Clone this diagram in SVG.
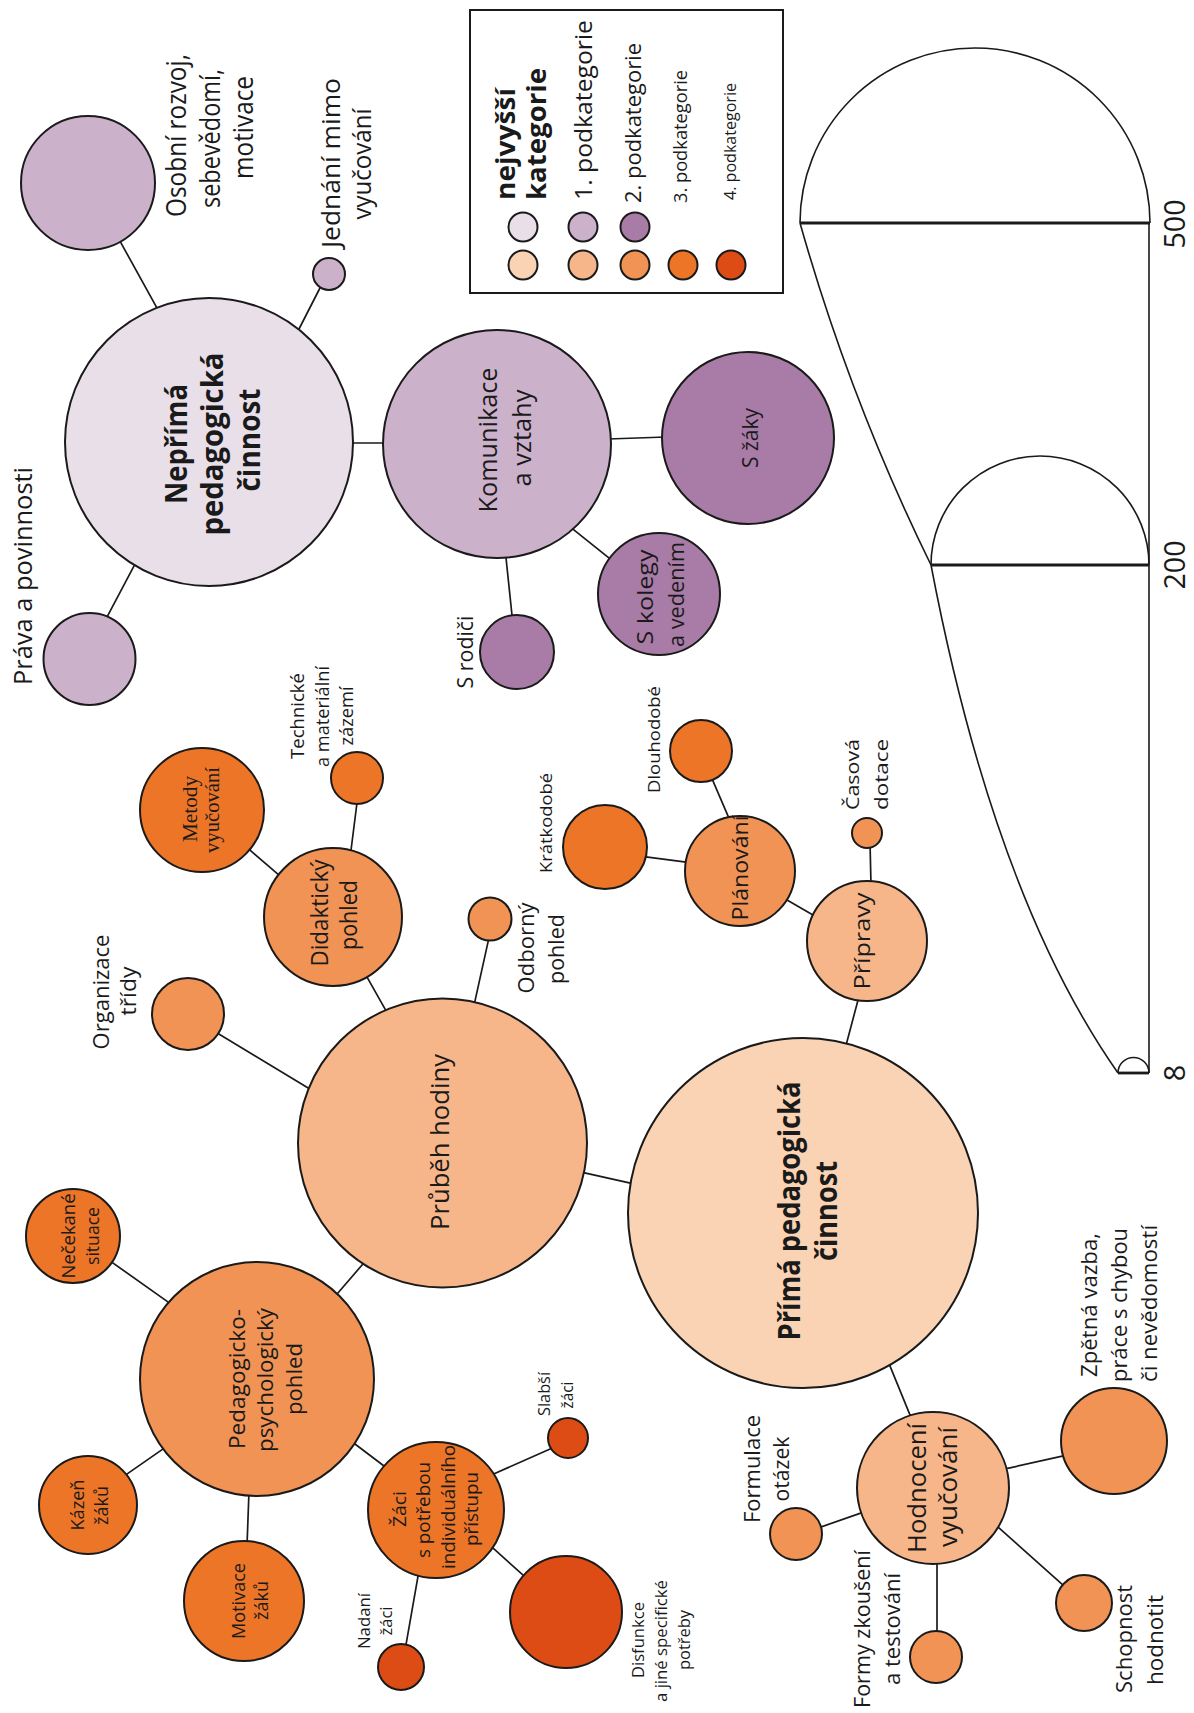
<svg xmlns="http://www.w3.org/2000/svg" width="1194" height="1713" viewBox="0 0 1194 1713">
<style>
.bg{fill:#ffffff}
circle{stroke:#1a1a1a;stroke-width:2}
.p0{fill:#e9dfe9}.p1{fill:#ccb1cb}.p2{fill:#a97ca7}
.o0{fill:#f9d3b4}.o1{fill:#f6b68a}.o2{fill:#f09355}.o3{fill:#ec7527}.o4{fill:#dd4c15}
.cn line{stroke:#1a1a1a;stroke-width:1.7;stroke-linecap:round}
text{font-family:"Open Sans","Noto Sans","DejaVu Sans",sans-serif;fill:#1a1a1a;text-anchor:middle}
.b{font-weight:bold}
.s{text-anchor:start}
.serif{font-family:"Liberation Serif","Times New Roman",serif}
.sc{fill:none;stroke:#1a1a1a;stroke-width:1.6}
.sd{stroke:#1a1a1a;stroke-width:2.8}
</style>
<rect class="bg" x="0" y="0" width="1194" height="1713"/>

<g id="scale">
<path class="sc" d="M800,223 A175,175 0 0 1 1150,223"/>
<path class="sc" d="M931,565 A109,109 0 0 1 1149,565"/>
<path class="sc" d="M1118,1073 A15.5,15.5 0 0 1 1149,1073"/>
<path class="sc" d="M800,223 Q850,400 931,565 Q994,896 1118,1073"/>
<line class="sd" x1="800" y1="223" x2="1150" y2="223"/>
<line class="sd" x1="931" y1="565" x2="1149" y2="565"/>
<line class="sd" x1="1118" y1="1073" x2="1149" y2="1073"/>
<line class="sc" x1="1149" y1="223" x2="1149" y2="1073"/>
<text font-size="29" transform="translate(1185,224) rotate(-90)" textLength="49" lengthAdjust="spacingAndGlyphs">500</text>
<text font-size="29" transform="translate(1185,565) rotate(-90)" textLength="49" lengthAdjust="spacingAndGlyphs">200</text>
<text font-size="29" transform="translate(1185,1073) rotate(-90)">8</text>
</g>

<g id="legend">
<rect x="470" y="10" width="313" height="283" fill="none" stroke="#1a1a1a" stroke-width="2"/>
<text class="b s" font-size="27" transform="translate(515,200) rotate(-90)" textLength="112" lengthAdjust="spacingAndGlyphs">nejvyšší</text>
<text class="b s" font-size="27" transform="translate(546,200) rotate(-90)" textLength="132" lengthAdjust="spacingAndGlyphs">kategorie</text>
<text class="s" font-size="24" transform="translate(592,200) rotate(-90)" textLength="180" lengthAdjust="spacingAndGlyphs">1. podkategorie</text>
<text class="s" font-size="21" transform="translate(641,203) rotate(-90)" textLength="160" lengthAdjust="spacingAndGlyphs">2. podkategorie</text>
<text class="s" font-size="18" transform="translate(687,203) rotate(-90)" textLength="133" lengthAdjust="spacingAndGlyphs">3. podkategorie</text>
<text class="s" font-size="16" transform="translate(736,200) rotate(-90)" textLength="117" lengthAdjust="spacingAndGlyphs">4. podkategorie</text>
<circle class="p0" cx="523" cy="227" r="14.5"/>
<circle class="p1" cx="583" cy="227" r="14.5"/>
<circle class="p2" cx="635" cy="227" r="14.5"/>
<circle class="o0" cx="523" cy="265" r="14.5"/>
<circle class="o1" cx="583" cy="265" r="14.5"/>
<circle class="o2" cx="635" cy="265" r="14.5"/>
<circle class="o3" cx="683" cy="265" r="14.5"/>
<circle class="o4" cx="731" cy="265" r="14.5"/>
</g>

<g id="connectors" class="cn">
<line x1="159.4" y1="312.4" x2="118.6" y2="238.6"/>
<line x1="296.7" y1="333.5" x2="323.3" y2="281.5"/>
<line x1="350" y1="443" x2="386" y2="443"/>
<line x1="136.3" y1="561.6" x2="104.7" y2="621.4"/>
<line x1="608" y1="439" x2="666" y2="437"/>
<line x1="570.1" y1="526.9" x2="612.9" y2="561.1"/>
<line x1="505.5" y1="553" x2="512.5" y2="620"/>
<line x1="282.8" y1="878.3" x2="247.2" y2="847.7"/>
<line x1="350.4" y1="855" x2="357.6" y2="798"/>
<line x1="364.5" y1="972.6" x2="387.5" y2="1013.4"/>
<line x1="214.7" y1="1031.4" x2="312.3" y2="1090.6"/>
<line x1="489.1" y1="937.1" x2="473.9" y2="1005.9"/>
<line x1="580.1" y1="1171.9" x2="634.9" y2="1184.1"/>
<line x1="334.7" y1="1296.8" x2="365.3" y2="1261.2"/>
<line x1="172.1" y1="1304.9" x2="108.9" y2="1260.1"/>
<line x1="167.1" y1="1446.1" x2="122.9" y2="1476.9"/>
<line x1="249" y1="1491" x2="247" y2="1546"/>
<line x1="351" y1="1441" x2="388" y2="1469"/>
<line x1="491.4" y1="1475" x2="554.6" y2="1447"/>
<line x1="418.9" y1="1571.1" x2="405.1" y2="1649.9"/>
<line x1="490.3" y1="1545.7" x2="526.7" y2="1578.3"/>
<line x1="730" y1="820.6" x2="711" y2="776.4"/>
<line x1="690" y1="862.7" x2="642" y2="856.3"/>
<line x1="782.7" y1="897.5" x2="817.3" y2="917.5"/>
<line x1="871" y1="885" x2="870" y2="842"/>
<line x1="859.3" y1="995.2" x2="846.7" y2="1042.8"/>
<line x1="888.1" y1="1361.4" x2="911.9" y2="1419.6"/>
<line x1="865.7" y1="1511.4" x2="816.3" y2="1528.6"/>
<line x1="937" y1="1558" x2="937" y2="1635"/>
<line x1="995.3" y1="1524.7" x2="1066.7" y2="1588.3"/>
<line x1="1004.1" y1="1469.1" x2="1067.9" y2="1454.9"/>
</g>

<g id="neprima">
<circle class="p0" cx="209" cy="442" r="144"/>
<text class="b" font-size="30" transform="translate(187,444) rotate(-90)" textLength="120" lengthAdjust="spacingAndGlyphs">Nepřímá</text>
<text class="b" font-size="30" transform="translate(223,444) rotate(-90)" textLength="183" lengthAdjust="spacingAndGlyphs">pedagogická</text>
<text class="b" font-size="30" transform="translate(260,440) rotate(-90)" textLength="103" lengthAdjust="spacingAndGlyphs">činnost</text>
</g>
<g id="osobni">
<circle class="p1" cx="88" cy="183" r="67"/>
<text font-size="27" transform="translate(186,135.5) rotate(-90)" textLength="163" lengthAdjust="spacingAndGlyphs">Osobní rozvoj,</text>
<text font-size="27" transform="translate(220,138.5) rotate(-90)" textLength="139" lengthAdjust="spacingAndGlyphs">sebevědomí,</text>
<text font-size="27" transform="translate(253,127.5) rotate(-90)" textLength="103" lengthAdjust="spacingAndGlyphs">motivace</text>
</g>
<g id="jednani">
<circle class="p1" cx="329" cy="274" r="16"/>
<text font-size="25" transform="translate(340,163) rotate(-90)" textLength="170" lengthAdjust="spacingAndGlyphs">Jednání mimo</text>
<text font-size="25" transform="translate(371,164) rotate(-90)" textLength="111" lengthAdjust="spacingAndGlyphs">vyučování</text>
</g>
<g id="prava">
<circle class="p1" cx="89.5" cy="659" r="46"/>
<text font-size="26" transform="translate(32,576) rotate(-90)" textLength="218" lengthAdjust="spacingAndGlyphs">Práva a povinnosti</text>
</g>
<g id="komunikace">
<circle class="p1" cx="497" cy="444" r="114"/>
<text font-size="25" transform="translate(497,440) rotate(-90)" textLength="145" lengthAdjust="spacingAndGlyphs">Komunikace</text>
<text font-size="25" transform="translate(531,438) rotate(-90)" textLength="97" lengthAdjust="spacingAndGlyphs">a vztahy</text>
</g>
<g id="s-zaky">
<circle class="p2" cx="748" cy="438" r="86"/>
<text font-size="21" transform="translate(758,438) rotate(-90)" textLength="60" lengthAdjust="spacingAndGlyphs">S žáky</text>
</g>
<g id="s-kolegy">
<circle class="p2" cx="659" cy="594" r="61"/>
<text font-size="21" transform="translate(653,597) rotate(-90)" textLength="95" lengthAdjust="spacingAndGlyphs">S kolegy</text>
<text font-size="21" transform="translate(684,594.5) rotate(-90)" textLength="105" lengthAdjust="spacingAndGlyphs">a vedením</text>
</g>
<g id="s-rodici">
<circle class="p2" cx="517" cy="652" r="37"/>
<text font-size="21" transform="translate(473,652) rotate(-90)" textLength="73" lengthAdjust="spacingAndGlyphs">S rodiči</text>
</g>

<g id="prima">
<circle class="o0" cx="803" cy="1213" r="175"/>
<text class="b" font-size="30" transform="translate(800,1211) rotate(-90)" textLength="259" lengthAdjust="spacingAndGlyphs">Přímá pedagogická</text>
<text class="b" font-size="30" transform="translate(837,1211) rotate(-90)" textLength="100" lengthAdjust="spacingAndGlyphs">činnost</text>
</g>
<g id="prubeh">
<circle class="o1" cx="442.5" cy="1143" r="144.5"/>
<text font-size="25" transform="translate(449,1142) rotate(-90)" textLength="176" lengthAdjust="spacingAndGlyphs">Průběh hodiny</text>
</g>
<g id="pripravy">
<circle class="o1" cx="867" cy="941" r="60"/>
<text font-size="22" transform="translate(870,941) rotate(-90)" textLength="97" lengthAdjust="spacingAndGlyphs">Přípravy</text>
</g>
<g id="hodnoceni">
<circle class="o1" cx="933" cy="1488" r="76"/>
<text font-size="25" transform="translate(926,1488) rotate(-90)" textLength="130" lengthAdjust="spacingAndGlyphs">Hodnocení</text>
<text font-size="25" transform="translate(957,1487) rotate(-90)" textLength="120" lengthAdjust="spacingAndGlyphs">vyučování</text>
</g>
<g id="didakticky">
<circle class="o2" cx="333" cy="917" r="69"/>
<text font-size="23" transform="translate(328,913) rotate(-90)" textLength="107" lengthAdjust="spacingAndGlyphs">Didaktický</text>
<text font-size="23" transform="translate(357,915) rotate(-90)" textLength="70" lengthAdjust="spacingAndGlyphs">pohled</text>
</g>
<g id="organizace">
<circle class="o2" cx="188" cy="1014" r="36"/>
<text font-size="22" transform="translate(109,992) rotate(-90)" textLength="115" lengthAdjust="spacingAndGlyphs">Organizace</text>
<text font-size="22" transform="translate(136,991) rotate(-90)" textLength="49" lengthAdjust="spacingAndGlyphs">třídy</text>
</g>
<g id="odborny">
<circle class="o2" cx="490" cy="919" r="21.5"/>
<text font-size="22" transform="translate(534,948) rotate(-90)" textLength="91" lengthAdjust="spacingAndGlyphs">Odborný</text>
<text font-size="22" transform="translate(564,949) rotate(-90)" textLength="70" lengthAdjust="spacingAndGlyphs">pohled</text>
</g>
<g id="pedpsych">
<circle class="o2" cx="257" cy="1379" r="117"/>
<text font-size="22" transform="translate(245,1379) rotate(-90)" textLength="140" lengthAdjust="spacingAndGlyphs">Pedagogicko-</text>
<text font-size="22" transform="translate(273,1380) rotate(-90)" textLength="144" lengthAdjust="spacingAndGlyphs">psychologický</text>
<text font-size="22" transform="translate(302,1379) rotate(-90)" textLength="72" lengthAdjust="spacingAndGlyphs">pohled</text>
</g>
<g id="planovani">
<circle class="o2" cx="740" cy="871" r="55"/>
<text font-size="21" transform="translate(748,868) rotate(-90)" textLength="105" lengthAdjust="spacingAndGlyphs">Plánování</text>
</g>
<g id="casova">
<circle class="o2" cx="867" cy="833" r="15"/>
<text font-size="19" transform="translate(859,774.5) rotate(-90)" textLength="71" lengthAdjust="spacingAndGlyphs">Časová</text>
<text font-size="19" transform="translate(888,774.5) rotate(-90)" textLength="71" lengthAdjust="spacingAndGlyphs">dotace</text>
</g>
<g id="formulace">
<circle class="o2" cx="796" cy="1534" r="26"/>
<text font-size="22" transform="translate(760,1469) rotate(-90)" textLength="108" lengthAdjust="spacingAndGlyphs">Formulace</text>
<text font-size="22" transform="translate(789,1469) rotate(-90)" textLength="65" lengthAdjust="spacingAndGlyphs">otázek</text>
</g>
<g id="formy">
<circle class="o2" cx="936" cy="1657" r="26"/>
<text font-size="22" transform="translate(870,1629) rotate(-90)" textLength="158" lengthAdjust="spacingAndGlyphs">Formy zkoušení</text>
<text font-size="22" transform="translate(900,1629) rotate(-90)" textLength="112" lengthAdjust="spacingAndGlyphs">a testování</text>
</g>
<g id="schopnost">
<circle class="o2" cx="1084" cy="1603" r="28"/>
<text font-size="22" transform="translate(1132,1639) rotate(-90)" textLength="108" lengthAdjust="spacingAndGlyphs">Schopnost</text>
<text font-size="22" transform="translate(1163,1640) rotate(-90)" textLength="90" lengthAdjust="spacingAndGlyphs">hodnotit</text>
</g>
<g id="zpetna">
<circle class="o2" cx="1114" cy="1441" r="53"/>
<text font-size="22" transform="translate(1097,1305) rotate(-90)" textLength="144" lengthAdjust="spacingAndGlyphs">Zpětná vazba,</text>
<text font-size="22" transform="translate(1127,1305) rotate(-90)" textLength="154" lengthAdjust="spacingAndGlyphs">práce s chybou</text>
<text font-size="22" transform="translate(1157,1303.5) rotate(-90)" textLength="157" lengthAdjust="spacingAndGlyphs">či nevědomostí</text>
</g>
<g id="metody">
<circle class="o3" cx="202" cy="810" r="62"/>
<text class="serif" font-size="21" transform="translate(197,809) rotate(-90)" textLength="66" lengthAdjust="spacingAndGlyphs">Metody</text>
<text class="serif" font-size="21" transform="translate(219,810) rotate(-90)" textLength="86" lengthAdjust="spacingAndGlyphs">vyučování</text>
</g>
<g id="technicke">
<circle class="o3" cx="357" cy="778" r="26"/>
<text font-size="18" transform="translate(304,716) rotate(-90)" textLength="86" lengthAdjust="spacingAndGlyphs">Technické</text>
<text font-size="18" transform="translate(329,716.5) rotate(-90)" textLength="101" lengthAdjust="spacingAndGlyphs">a materiální</text>
<text font-size="18" transform="translate(353,716) rotate(-90)" textLength="59" lengthAdjust="spacingAndGlyphs">zázemí</text>
</g>
<g id="necekane">
<circle class="o3" cx="73" cy="1236" r="47"/>
<text font-size="18" transform="translate(75,1236) rotate(-90)" textLength="85" lengthAdjust="spacingAndGlyphs">Nečekané</text>
<text font-size="18" transform="translate(99,1236) rotate(-90)" textLength="58" lengthAdjust="spacingAndGlyphs">situace</text>
</g>
<g id="kazen">
<circle class="o3" cx="88" cy="1505" r="49"/>
<text font-size="18" transform="translate(84,1505) rotate(-90)" textLength="51" lengthAdjust="spacingAndGlyphs">Kázeň</text>
<text font-size="18" transform="translate(108,1505.5) rotate(-90)" textLength="39" lengthAdjust="spacingAndGlyphs">žáků</text>
</g>
<g id="motivace">
<circle class="o3" cx="244" cy="1601" r="60"/>
<text font-size="18" transform="translate(245,1601) rotate(-90)" textLength="76" lengthAdjust="spacingAndGlyphs">Motivace</text>
<text font-size="18" transform="translate(268,1600.5) rotate(-90)" textLength="39" lengthAdjust="spacingAndGlyphs">žáků</text>
</g>
<g id="zaci">
<circle class="o3" cx="436" cy="1510" r="68"/>
<text font-size="18" transform="translate(406,1509) rotate(-90)" textLength="36" lengthAdjust="spacingAndGlyphs">Žáci</text>
<text font-size="18" transform="translate(430,1510) rotate(-90)" textLength="96" lengthAdjust="spacingAndGlyphs">s potřebou</text>
<text font-size="18" transform="translate(455,1507) rotate(-90)" textLength="124" lengthAdjust="spacingAndGlyphs">individuálního</text>
<text font-size="18" transform="translate(478,1509) rotate(-90)" textLength="74" lengthAdjust="spacingAndGlyphs">přístupu</text>
</g>
<g id="kratkodobe">
<circle class="o3" cx="605" cy="847" r="42"/>
<text font-size="17" transform="translate(552,823) rotate(-90)" textLength="100" lengthAdjust="spacingAndGlyphs">Krátkodobé</text>
</g>
<g id="dlouhodobe">
<circle class="o3" cx="701" cy="751" r="31"/>
<text font-size="17" transform="translate(660,739.5) rotate(-90)" textLength="107" lengthAdjust="spacingAndGlyphs">Dlouhodobé</text>
</g>
<g id="slabsi">
<circle class="o4" cx="568" cy="1438" r="20"/>
<text font-size="16" transform="translate(550,1394) rotate(-90)" textLength="44" lengthAdjust="spacingAndGlyphs">Slabší</text>
<text font-size="16" transform="translate(573,1395) rotate(-90)" textLength="27" lengthAdjust="spacingAndGlyphs">žáci</text>
</g>
<g id="nadani">
<circle class="o4" cx="401" cy="1667" r="23"/>
<text font-size="16" transform="translate(370,1621) rotate(-90)" textLength="56" lengthAdjust="spacingAndGlyphs">Nadaní</text>
<text font-size="16" transform="translate(392,1621) rotate(-90)" textLength="29" lengthAdjust="spacingAndGlyphs">žáci</text>
</g>
<g id="disfunkce">
<circle class="o4" cx="566" cy="1612" r="56"/>
<text font-size="16" transform="translate(644,1640) rotate(-90)" textLength="76" lengthAdjust="spacingAndGlyphs">Disfunkce</text>
<text font-size="16" transform="translate(667,1641) rotate(-90)" textLength="122" lengthAdjust="spacingAndGlyphs">a jiné specifické</text>
<text font-size="16" transform="translate(690,1640) rotate(-90)" textLength="60" lengthAdjust="spacingAndGlyphs">potřeby</text>
</g>
</svg>
